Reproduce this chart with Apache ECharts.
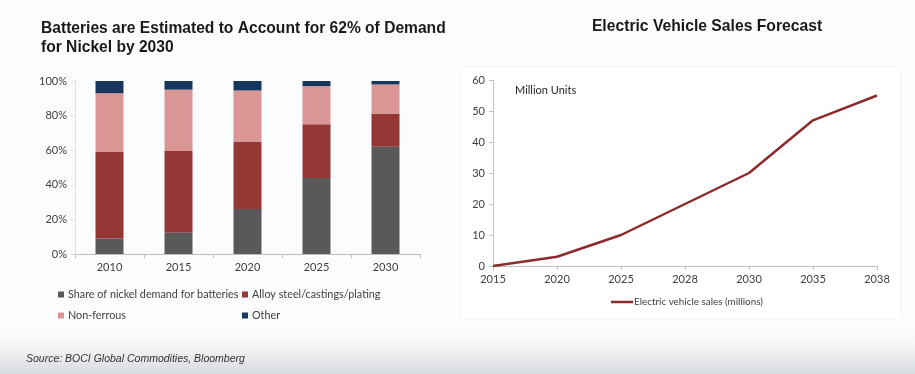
<!DOCTYPE html>
<html>
<head>
<meta charset="utf-8">
<script src="https://cdn.jsdelivr.net/npm/echarts@6/dist/echarts.min.js"></script>
<style>
html,body{margin:0;padding:0;}
body{width:915px;height:374px;overflow:hidden;position:relative;
 background:linear-gradient(to bottom,#fbfcfd 0px,#fbfcfd 330px,#eef0f2 352px,#d8dbdf 374px);}
#panel{position:absolute;left:462px;top:68px;width:438px;height:250px;background:#ffffff;
 box-shadow:0 0 4px rgba(0,0,0,0.05);}
#main{position:absolute;left:0;top:0;width:915px;height:374px;}
</style>
</head>
<body>
<div id="panel"></div>
<div id="main"></div>
<script>
// ---- Left chart data (share of nickel demand, %) ----
const nickelYears = ['2010', '2015', '2020', '2025', '2030'];
const batteries = [9, 12.5, 26, 44, 62];
const alloySteel = [50, 47, 39, 31, 19];
const nonFerrous = [34, 35.5, 29.5, 22, 17];
const otherUse = [7, 5, 5.5, 3, 2];
const pctTicks = [0, 20, 40, 60, 80, 100];

// ---- Right chart data (EV sales, million units) ----
const evYears = ['2015', '2020', '2025', '2028', '2030', '2035', '2038'];
const evSales = [0, 3, 10, 20, 30, 47, 55];

const labelFont = 'Lato, "Liberation Sans", sans-serif';
const axisTxt = {color: '#404040', fontSize: 11, fontFamily: labelFont};

const chart = echarts.init(document.getElementById('main'), null, {renderer: 'canvas'});

function barSeries(name, data, color) {
  return {
    name: name, type: 'bar', stack: 'nickel', data: data,
    xAxisIndex: 0, yAxisIndex: 0, barWidth: 28,
    itemStyle: {color: color}, emphasis: {disabled: true}
  };
}

function legendAt(name, left, top) {
  return {
    data: [name], left: left, top: top, icon: 'rect', itemWidth: 6, itemHeight: 6,
    padding: 0, itemGap: 0,
    textStyle: {color: '#404040', fontSize: 10.8, fontFamily: labelFont, padding: [0, 0, 0, -1]}
  };
}

chart.setOption({
  animation: false,
  backgroundColor: 'transparent',
  title: [
    {text: 'Batteries are Estimated to Account for 62% of Demand\nfor Nickel by 2030',
     left: 41, top: 19, padding: 0,
     textStyle: {fontFamily: '"Liberation Sans", Arial, sans-serif', fontWeight: 'bold', fontSize: 15.6, color: '#1a1a1a', lineHeight: 19}},
    {text: 'Electric Vehicle Sales Forecast', left: 707, textAlign: 'center', top: 19, padding: 0,
     textStyle: {fontFamily: '"Liberation Sans", Arial, sans-serif', fontWeight: 'bold', fontSize: 15.7, color: '#1a1a1a'}},
    {text: 'Source: BOCI Global Commodities, Bloomberg', left: 26, top: 354, padding: 0,
     textStyle: {fontFamily: '"Liberation Sans", Arial, sans-serif', fontStyle: 'italic', fontWeight: 'normal', fontSize: 10.5, color: '#333333'}}
  ],
  legend: [
    legendAt('Share of nickel demand for batteries', 58, 289),
    legendAt('Alloy steel/castings/plating', 242, 289),
    legendAt('Non-ferrous', 58, 310),
    legendAt('Other', 242, 310),
    {data: ['Electric vehicle sales (millions)'], left: 611, top: 297, icon: 'rect',
     itemWidth: 22, itemHeight: 2.5, padding: 0,
     textStyle: {color: '#404040', fontSize: 9.9, fontFamily: labelFont, padding: [0, 0, 0, -4]}}
  ],
  grid: [
    {left: 75, top: 81, width: 345, height: 173},
    {left: 493, top: 80, width: 384, height: 186}
  ],
  xAxis: [
    {type: 'category', gridIndex: 0, data: nickelYears,
     axisLine: {lineStyle: {color: '#bfbfbf'}},
     axisTick: {show: true, length: 4, lineStyle: {color: '#bfbfbf'}},
     axisLabel: Object.assign({margin: 8}, axisTxt)},
    {type: 'category', gridIndex: 1, data: evYears, boundaryGap: false,
     axisLine: {lineStyle: {color: '#bfbfbf'}},
     axisTick: {show: true, length: 4, lineStyle: {color: '#bfbfbf'}},
     axisLabel: Object.assign({margin: 8}, axisTxt)}
  ],
  yAxis: [
    {type: 'value', gridIndex: 0, min: pctTicks[0], max: pctTicks[pctTicks.length - 1], interval: 20,
     axisLine: {show: true, lineStyle: {color: '#e0e0e0'}},
     axisTick: {show: true, length: 4, lineStyle: {color: '#e0e0e0'}},
     splitLine: {show: false},
     axisLabel: Object.assign({formatter: '{value}%', margin: 8}, axisTxt)},
    {type: 'value', gridIndex: 1, min: 0, max: 60, interval: 10,
     axisLine: {show: true, lineStyle: {color: '#bfbfbf'}},
     axisTick: {show: true, length: 4, lineStyle: {color: '#bfbfbf'}},
     splitLine: {show: false},
     axisLabel: Object.assign({margin: 8}, axisTxt)}
  ],
  graphic: [
    {type: 'text', left: 515, top: 85,
     style: {text: 'Million Units', fill: '#262626', font: '11px ' + labelFont}}
  ],
  series: [
    barSeries('Share of nickel demand for batteries', batteries, '#595959'),
    barSeries('Alloy steel/castings/plating', alloySteel, '#953735'),
    barSeries('Non-ferrous', nonFerrous, '#d99694'),
    barSeries('Other', otherUse, '#17375e'),
    {name: 'Electric vehicle sales (millions)', type: 'line', data: evSales,
     xAxisIndex: 1, yAxisIndex: 1, symbol: 'none', smooth: false,
     lineStyle: {color: '#8b2b2e', width: 2.5}, itemStyle: {color: '#8b2b2e'},
     emphasis: {disabled: true}}
  ]
});
</script>
</body>
</html>
